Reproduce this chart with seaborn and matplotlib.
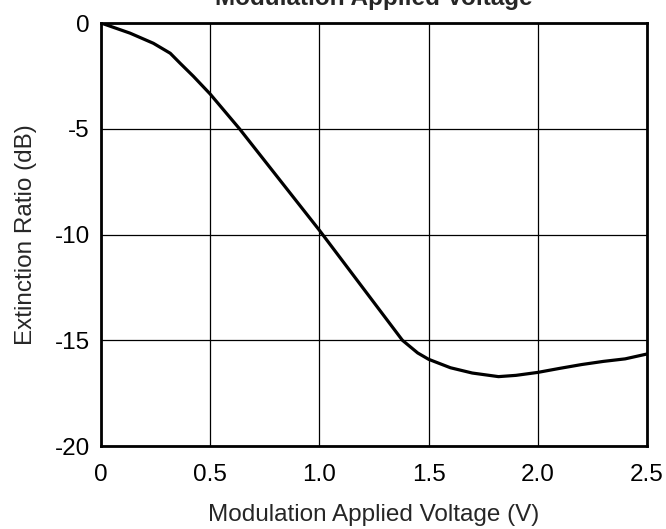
import matplotlib

matplotlib.use("Agg")
import matplotlib.pyplot as plt
import pandas as pd
import seaborn as sns

# values
voltage = [0.0, 0.133, 0.24, 0.317, 0.362, 0.423, 0.5, 0.634, 1.0, 1.38,
           1.45, 1.5, 1.6, 1.7, 1.82, 1.9, 2.0, 2.1, 2.2, 2.3, 2.4, 2.5]
extinction = [0.0, -0.48, -0.96, -1.43, -1.9, -2.52, -3.36, -5.0, -9.8, -15.0,
              -15.6, -15.9, -16.3, -16.55, -16.72, -16.66, -16.52, -16.33, -16.15,
              -16.0, -15.88, -15.65]
x_ticks = [0, 0.5, 1.0, 1.5, 2.0, 2.5]
x_tick_labels = ["0", "0.5", "1.0", "1.5", "2.0", "2.5"]
y_ticks = [0, -5, -10, -15, -20]
y_tick_labels = ["0", "-5", "-10", "-15", "-20"]

sns.set_style("white")
plt.rcParams["font.family"] = ["Liberation Sans", "DejaVu Sans"]

df = pd.DataFrame({"voltage": voltage, "extinction": extinction})

fig = plt.figure(figsize=(6.66, 5.29), dpi=100)
ax = fig.add_axes([101 / 666, 1 - 446 / 529, 546 / 666, 423 / 529])
sns.lineplot(data=df, x="voltage", y="extinction", ax=ax, color="black",
             linewidth=2.3, zorder=3)

ax.set_xlim(0, 2.5)
ax.set_ylim(-20, 0)
ax.set_xticks(x_ticks, x_tick_labels)
ax.set_yticks(y_ticks, y_tick_labels)
ax.grid(True, color="black", linewidth=0.9)
for spine in ax.spines.values():
    spine.set_color("black")
    spine.set_linewidth(2)
ax.tick_params(axis="both", length=0, labelsize=17.5, colors="black")
ax.tick_params(axis="x", pad=13)
ax.tick_params(axis="y", pad=8)
ax.set_xlabel("Modulation Applied Voltage (V)", fontsize=17.5, labelpad=13)
ax.set_ylabel("Extinction Ratio (dB)", fontsize=17.5, labelpad=13)
ax.set_title("Modulation Applied Voltage", fontsize=17.5, fontweight="bold", pad=13)

fig.savefig("out.png", dpi=100)
